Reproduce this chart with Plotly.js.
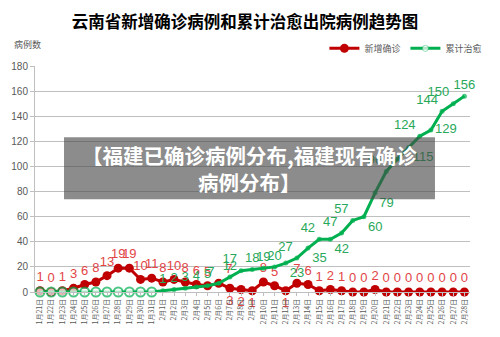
<!DOCTYPE html>
<html><head><meta charset="utf-8">
<script src="https://cdn.plot.ly/plotly-3.0.1.min.js"></script>
<style>html,body{margin:0;padding:0;background:#fff}#c{width:500px;height:337px}</style>
</head><body><div id="c"></div>
<script>
const dates = ["1月21日","1月22日","1月23日","1月24日","1月25日","1月26日","1月27日","1月28日","1月29日","1月30日","1月31日",
"2月1日","2月2日","2月3日","2月4日","2月5日","2月6日","2月7日","2月8日","2月9日","2月10日","2月11日","2月12日","2月13日","2月14日",
"2月15日","2月16日","2月17日","2月18日","2月19日","2月20日","2月21日","2月22日","2月23日","2月24日","2月25日","2月26日","2月27日","2月28日"];
const newConfirmed = [1,0,1,3,6,8,13,19,19,10,11,
8,10,8,6,5,7,3,2,1,8,5,1,7,6,1,2,1,0,0,2,0,0,0,0,0,0,0,0];
const cumCured = [0,0,0,0,0,0,0,0,0,0,0,
1,2,3,4,5,7,12,17,18,19,20,23,27,35,42,42,47,57,60,79,96,106,115,124,129,144,150,156];
const tickVals = [0,20,40,60,80,100,120,140,160,180];

// label styling (not data)
const redPos = newConfirmed.map(()=> 'top center');
redPos[16] = 'top right'; redPos[17] = 'bottom center'; redPos[18] = 'bottom center'; redPos[19] = 'bottom center'; redPos[22] = 'bottom center';
const greenPos = ['top center','top center','top center','top center','top center','top center','top center','top center','top center','top center','top center',
'top center','top center','top center','top center','top center','top left','top center','top left','top center','top center','top center','bottom right','top left','bottom right',
'top left','bottom right','top left','top left','bottom right','bottom right','top left','top left','bottom right','top left','middle right','top left','top left','top center'];
const greenHidden = new Set([32]);
const greenText = cumCured.map((v, i) => (v === 0 || greenHidden.has(i)) ? '' : String(v));

const RED = '#c00000', GREEN = '#00b050';
const traces = [
 {x: dates, y: newConfirmed, name: '新增确诊', type: 'scatter', mode: 'lines+markers+text',
  line: {color: RED, width: 3}, marker: {color: RED, size: 9},
  text: newConfirmed.map(String), textposition: redPos,
  textfont: {color: '#e24446', size: 13, family: 'Liberation Sans, Arial'}, cliponaxis: false},
 {x: dates, y: cumCured, name: '累计治愈', type: 'scatter', mode: 'lines+markers+text',
  line: {color: GREEN, width: 3},
  marker: {color: cumCured.map(v => v === 0 ? '#ffffff' : GREEN), size: cumCured.map(v => v === 0 ? 9 : 5),
           line: {color: GREEN, width: cumCured.map(v => v === 0 ? 2 : 0)}},
  text: greenText, textposition: greenPos,
  textfont: {color: '#28a85a', size: 13, family: 'Liberation Sans, Arial'}, cliponaxis: false}
];
const layout = {
 width: 500, height: 337,
 margin: {l: 35, r: 30, t: 66, b: 45},
 paper_bgcolor: '#fff', plot_bgcolor: '#fff',
 font: {family: 'Noto Sans CJK SC, Liberation Sans', color: '#595959'},
 title: {text: '<b>云南省新增确诊病例和累计治愈出院病例趋势图</b>', x: 0.49, xanchor: 'center', y: 0.935, yanchor: 'middle',
         font: {size: 16.5, color: '#000', family: 'Noto Sans CJK SC'}},
 showlegend: true,
 legend: {orientation: 'h', x: 1.04, xanchor: 'right', y: 1.078, yanchor: 'middle',
          font: {size: 9, color: '#595959', family: 'Noto Sans CJK SC'}, itemwidth: 30, tracegroupgap: 0, bgcolor: 'rgba(0,0,0,0)'},
 xaxis: {type: 'category', range: [-0.45, 38.5], tickangle: -90, tickfont: {size: 7, color: '#595959', family: 'Noto Sans CJK SC'},
         showgrid: false, showline: true, linecolor: '#bfbfbf', linewidth: 1, ticks: 'outside', ticklen: 3, tickcolor: '#bfbfbf', zeroline: false},
 yaxis: {range: [0, 180], tickvals: tickVals, showgrid: true, gridcolor: '#bfbfbf', gridwidth: 1.2,
         showline: true, linecolor: '#bfbfbf', ticks: 'outside', ticklen: 4, tickcolor: '#bfbfbf',
         tickfont: {size: 10, color: '#595959', family: 'Liberation Sans, Arial'}, zeroline: false},
 shapes: [{type: 'rect', xref: 'paper', yref: 'paper', x0: 0.0667, x1: 0.9195, y0: 0.410, y1: 0.6845,
           fillcolor: 'rgba(70,70,70,0.62)', line: {width: 0}, layer: 'above'}],
 annotations: [
  {text: '病例数', xref: 'paper', yref: 'paper', x: -0.053, y: 1.096, xanchor: 'left', yanchor: 'middle', showarrow: false,
   font: {size: 9, color: '#595959', family: 'Noto Sans CJK SC'}},
  {text: '<b>【福建已确诊病例分布,福建现有确诊</b><br><b>病例分布】</b>', xref: 'paper', yref: 'paper', x: 0.494, y: 0.545,
   xanchor: 'center', yanchor: 'middle', showarrow: false, align: 'center',
   font: {size: 20.5, color: '#ffffff', family: 'Noto Sans CJK SC'}}
 ]
};
Plotly.newPlot('c', traces, layout, {displayModeBar: false, staticPlot: true});
</script></body></html>
